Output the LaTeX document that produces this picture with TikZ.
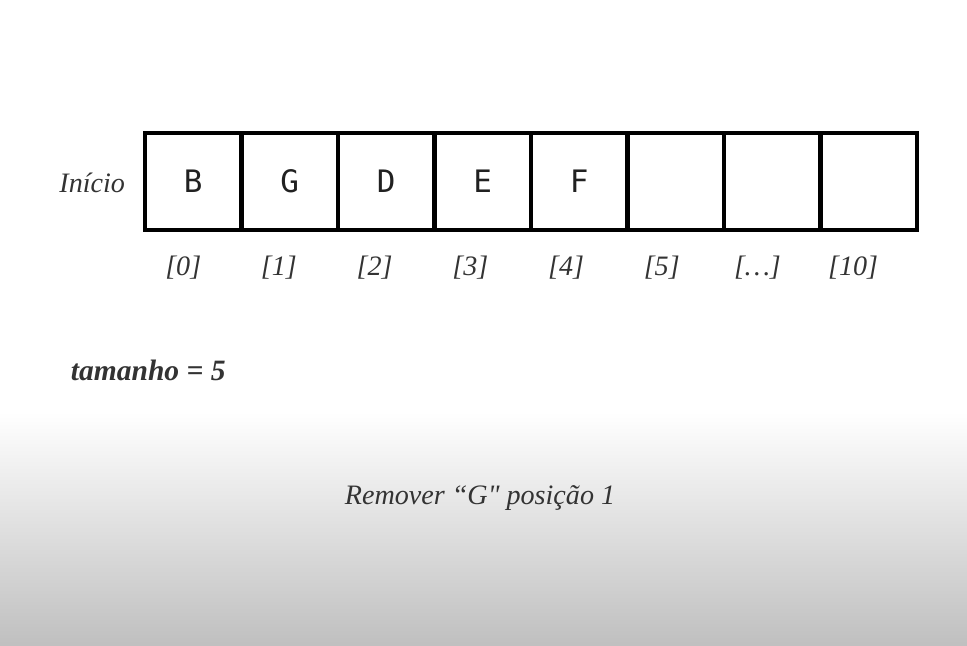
\documentclass[tikz,border=0pt]{standalone}
\usepackage{fontspec}
\setmainfont{Liberation Serif}[Ligatures=TeXOff]
\newfontfamily\cellfont{DejaVu Sans Mono}
\definecolor{textgray}{HTML}{333333}
\tikzset{
  cell/.style={draw=black, line width=2.9pt, minimum width=2.4125cm, minimum height=2.425cm,
    inner sep=0pt, font=\cellfont\fontsize{22}{24}\selectfont, text=black!87},
  idx/.style={font=\itshape\fontsize{20}{24}\selectfont, text=textgray},
  caption/.style={font=\itshape\fontsize{20}{24}\selectfont, text=textgray}
}
\begin{document}
\begin{tikzpicture}
\useasboundingbox (0,0) rectangle (24.175,-16.15);
\fill[white] (0,0) rectangle (24.175,-10.3);
\shade[top color=white, bottom color=black!25] (0,-10.3) rectangle (24.175,-16.15);
% vetor
\foreach \v [count=\i from 0] in {B,G,D,E,F,,,}
  \node[cell] (c\i) at ({4.831+2.4125*\i},-4.5375) {\v};
\foreach \t [count=\i from 0] in {[0],[1],[2],[3],[4],[5],[…],[10]}
  \node[idx] (i\i) at ({4.581+2.4125*\i-0.02*\i},-6.7) {\t};
\node[caption, anchor=east] (inicio) at (3.25,-4.575) {Início};
\node[caption, font=\bfseries\itshape\fontsize{21}{24}\selectfont, anchor=west] (tam) at (1.65,-9.25) {tamanho\ =\ 5};
\node[caption] (rem) at (12.0,-12.45) {Remover “G" posição 1};
\end{tikzpicture}
\end{document}
